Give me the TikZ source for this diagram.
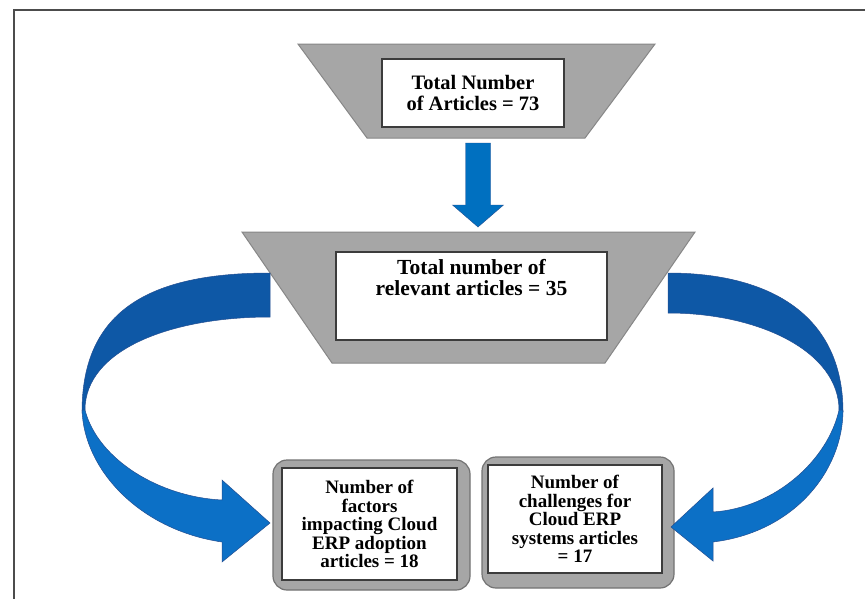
\documentclass[tikz,border=0pt]{standalone}
\usepackage{fontspec}
\setmainfont{Liberation Serif}
\usetikzlibrary{calc}
\definecolor{trapgray}{RGB}{166,166,166}
\definecolor{trapedge}{RGB}{135,135,135}
\definecolor{blueDark}{RGB}{14,88,166}
\definecolor{blueLight}{RGB}{12,112,198}
\definecolor{blueEdge}{RGB}{35,78,145}
\definecolor{arrowBlue}{RGB}{0,112,192}
\definecolor{boxedge}{RGB}{60,60,60}
\begin{document}
\begin{tikzpicture}[x=1pt,y=-1pt,
  trap/.style={fill=trapgray, draw=trapedge, line width=1pt},
  wbox/.style={draw=boxedge, line width=1.3pt, fill=white, inner sep=0pt},
  obox/.style={draw=black!55, fill=trapgray, line width=1.2pt, rounded corners=14pt, inner sep=0pt},
  lbl/.style={font=\bfseries\fontsize{19}{18.6}\selectfont, align=center, inner sep=0pt},
  toplbl/.style={font=\bfseries\fontsize{20.5}{21}\selectfont, align=center, inner sep=0pt},
  midlbl/.style={font=\bfseries\fontsize{21.5}{21}\selectfont, align=center, inner sep=0pt},
  darkband/.style={fill=blueDark, draw=blueEdge, line width=0.5pt},
  lightband/.style={fill=blueLight, draw=blueEdge, line width=0.5pt}]
\useasboundingbox (0,0) rectangle (865,598);
\fill[white] (0,0) rectangle (865,598);
% frame
\draw[black!70, line width=2pt] (13.5,600) -- (13.5,9.5) -- (866,9.5);

% top trapezoid and box
\draw[trap] (298,44) -- (655,44) -- (585,138) -- (367,138) -- cycle;
\node[wbox, minimum width=182pt, minimum height=68pt] (top) at (473,93) {};
\node[toplbl] (toptext) at (top.center) {Total Number\\of Articles = 73};

% second trapezoid and box
\draw[trap] (242,232) -- (695,232) -- (605,363) -- (332,363) -- cycle;
\node[wbox, minimum width=271pt, minimum height=88pt] (mid) at (471.5,296) {};
\node[midlbl, anchor=north] (midtext) at ($(mid.north)+(0,8)$) {Total number of\\relevant articles = 35};

% straight arrow
\coordinate (t1b) at (478,138);
\coordinate (t2t) at (478,232);
\filldraw[fill=arrowBlue, draw=blueEdge, line width=0.4pt]
  ($(t1b)+(-12.5,5)$) -- ($(t1b)+(12.5,5)$) -- ($(t2t)+(12.5,-27)$) -- ($(t2t)+(25.5,-27)$)
  -- ($(t2t)+(0,-5)$) -- ($(t2t)+(-25.5,-27)$) -- ($(t2t)+(-12.5,-27)$) -- cycle;

% bottom boxes
\node[obox, minimum width=197pt, minimum height=130pt] (b1o) at (371.5,525) {};
\node[wbox, minimum width=175pt, minimum height=112pt] (b1) at (369.5,524) {};
\node[lbl] (b1text) at (b1.center) {Number of\\factors\\impacting Cloud\\ERP adoption\\articles = 18};
\node[obox, minimum width=192pt, minimum height=131pt] (b2o) at (578,522.5) {};
\node[wbox, minimum width=174pt, minimum height=108pt] (b2) at (575,519) {};
\node[lbl] (b2text) at (b2.center) {Number of\\challenges for\\Cloud ERP\\systems articles\\= 17};

% left curved arrow
\coordinate (ltail) at (270,273);
\coordinate (ltip) at (b1o.west);
\filldraw[darkband] (ltail) .. controls (150,273) and (82,310) .. (82,412)
  -- (85,410) .. controls (85,350) and (170,317) .. (270,317) -- cycle;
\filldraw[lightband] (82,410) .. controls (84,470) and (140,530) .. (222,542)
  -- (222,562) -- (270,523) -- (222,480) -- (222,500)
  .. controls (160,497) and (98,460) .. (85,410) -- cycle;

% right curved arrow
\coordinate (rtail) at (668,273);
\coordinate (rtip) at (b2o.east);
\filldraw[darkband] (rtail) .. controls (770,273) and (843,315) .. (843,412)
  -- (839,410) .. controls (839,352) and (760,313) .. (668,313) -- cycle;
\filldraw[lightband] (843,410) .. controls (843,470) and (795,532) .. (713,542)
  -- (713,561) -- (671,527) -- (713,488) -- (713,512)
  .. controls (775,508) and (828,460) .. (839,410) -- cycle;
\end{tikzpicture}
\end{document}
